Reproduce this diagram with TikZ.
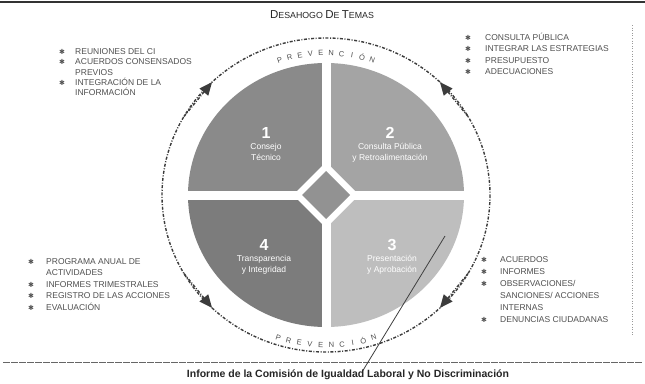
\documentclass[tikz,border=0pt]{standalone}
\usepackage{fontspec}
\setmainfont{Liberation Sans}
\newfontfamily\simbolo{DejaVu Sans}
\usetikzlibrary{arrows.meta}
\usetikzlibrary{positioning}
\definecolor{cuadUno}{HTML}{8A8A8A}
\definecolor{cuadDos}{HTML}{A4A4A4}
\definecolor{cuadTres}{HTML}{BEBEBE}
\definecolor{cuadCuatro}{HTML}{7C7C7C}
\definecolor{rombo}{HTML}{929292}
\definecolor{anilloGris}{HTML}{3C3C3C}
\definecolor{textoGris}{HTML}{505050}
\newcommand{\vin}{{\simbolo\fontsize{7}{7}\selectfont ✱}}
\newcommand{\mayus}[1]{{\fontsize{11.5}{11}\selectfont #1}}
\tikzset{
  node distance = 4pt and 6pt,
  > = {Triangle[length=13pt, width=11pt]},
  numero/.style = {text = white,
                   font = \bfseries\fontsize{16}{16}\selectfont,
                   inner sep = 0pt},
  etapa/.style = {text = white,
                  align = center,
                  font = \fontsize{8.5}{11}\selectfont,
                  inner sep = 0pt},
  lista/.style = {anchor = north west,
                  inner sep = 0pt,
                  text = textoGris,
                  font = \fontsize{8.5}{#1}\selectfont},
  lista/.default = 11.5,
  anillo/.style = {draw = anilloGris,
                   line width = 1.4pt,
                   dash pattern = on 3pt off 1.6pt on 1pt off 1.6pt},
  flecha/.style = {anillo, ->},
  letra/.style = {font = \fontsize{7.5}{7.5}\selectfont,
                  text = textoGris,
                  inner sep = 0pt},
  titulo/.style = {font = \fontsize{8.8}{10}\selectfont,
                   text = black!85},
  pie/.style = {font = \bfseries\fontsize{10.5}{12}\selectfont,
                text = black!85}
}

\begin{document}
\begin{tikzpicture}[x = 1pt, y = -1pt]

\useasboundingbox (0,0) rectangle (645,383);
\fill[white] (0,0) rectangle (645,383);

\coordinate (c) at (326,195);

% cuadrantes
\begin{scope}
  \clip (c) ellipse [x radius = 138, y radius = 132];
  \fill[cuadUno] (c) rectangle ++(-140,-135);
  \fill[cuadDos] (c) rectangle ++(140,-135);
  \fill[cuadTres] (c) rectangle ++(140,135);
  \fill[cuadCuatro] (c) rectangle ++(-140,135);
\end{scope}
\draw[white, line width = 9pt] (c) ++(0,-140) -- ++(0,280);
\draw[white, line width = 9pt] (c) ++(-145,0) -- ++(290,0);
\fill[white] (c) ++(0,-33) -- ++(33,33) -- ++(-33,33) -- ++(-33,-33) -- cycle;
\fill[rombo] (c) ++(0,-24) -- ++(24,24) -- ++(-24,24) -- ++(-24,-24) -- cycle;

% anillo de prevencion
\draw[anillo] (c) ellipse [x radius = 164, y radius = 157];
\draw[flecha] ([shift={(c)}]210:164 and 157) -- ([shift={(c)}]226:164 and 157);
\draw[flecha] ([shift={(c)}]330:164 and 157) -- ([shift={(c)}]314:164 and 157);
\draw[flecha] ([shift={(c)}]150:164 and 157) -- ([shift={(c)}]134:164 and 157);
\draw[flecha] ([shift={(c)}]30:164 and 157) -- ([shift={(c)}]46:164 and 157);

\foreach \l [count=\i] in {P,R,E,V,E,N,C,I,Ó,N} {
  \pgfmathsetmacro\ang{248+4*\i}
  \node[letra, rotate = 270-\ang] at ([shift={(c)}]\ang:150 and 142) {\l};
  \pgfmathsetmacro\angb{112-4*\i}
  \node[letra, rotate = 90-\angb] at ([shift={(c)}]\angb:154 and 150) {\l};
}

% etapas
\node[numero](num-uno) at (266,133) {1};
\node[etapa](etapa-uno)[below = of num-uno]{Consejo\\Técnico};

\node[numero](num-dos) at (390,133) {2};
\node[etapa](etapa-dos)[below = of num-dos]{Consulta Pública\\y Retroalimentación};

\node[numero](num-tres) at (392,245) {3};
\node[etapa](etapa-tres)[below = of num-tres]{Presentación\\y Aprobación};

\node[numero](num-cuatro) at (264,245) {4};
\node[etapa](etapa-cuatro)[below = of num-cuatro]{Transparencia\\y Integridad};

% listas de temas
\node[titulo](titulo) at (322,15) {\mayus{D}ESAHOGO \mayus{D}E \mayus{T}EMAS};

\node[lista = 10.3](lista-uno) at (59,47) {\begin{tabular}{@{}p{16pt}@{}l@{}}
  \vin & REUNIONES DEL CI\\
  \vin & ACUERDOS CONSENSADOS\\
       & PREVIOS\\
  \vin & INTEGRACIÓN DE LA\\
       & INFORMACIÓN
\end{tabular}};

\node[lista](lista-dos) at (465,32) {\begin{tabular}{@{}p{20pt}@{}l@{}}
  \vin & CONSULTA PÚBLICA\\
  \vin & INTEGRAR LAS ESTRATEGIAS\\
  \vin & PRESUPUESTO\\
  \vin & ADECUACIONES
\end{tabular}};

\node[lista = 12](lista-tres) at (481,254) {\begin{tabular}{@{}p{19pt}@{}l@{}}
  \vin & ACUERDOS\\
  \vin & INFORMES\\
  \vin & OBSERVACIONES/\\
       & SANCIONES/ ACCIONES\\
       & INTERNAS\\
  \vin & DENUNCIAS CIUDADANAS
\end{tabular}};

\node[lista](lista-cuatro) at (28,256) {\begin{tabular}{@{}p{18pt}@{}l@{}}
  \vin & PROGRAMA ANUAL DE\\
       & ACTIVIDADES\\
  \vin & INFORMES TRIMESTRALES\\
  \vin & REGISTRO DE LAS ACCIONES\\
  \vin & EVALUACIÓN
\end{tabular}};

% marco de la hoja
\draw[black!80, line width = 1.5pt] (0,2) -- (645,2);
\draw[black!60, line width = 0.9pt, dash pattern = on 7pt off 1pt] (3,362) -- (642,362);
\draw[black!40, line width = 0.6pt, dotted] (632,25) -- (632,335);
\draw[black!75, line width = 0.8pt] (445,236) -- (362,372);

\node[pie](pie) at (348,375) {Informe de la Comisión de Igualdad Laboral y No Discriminación};

\end{tikzpicture}
\end{document}
